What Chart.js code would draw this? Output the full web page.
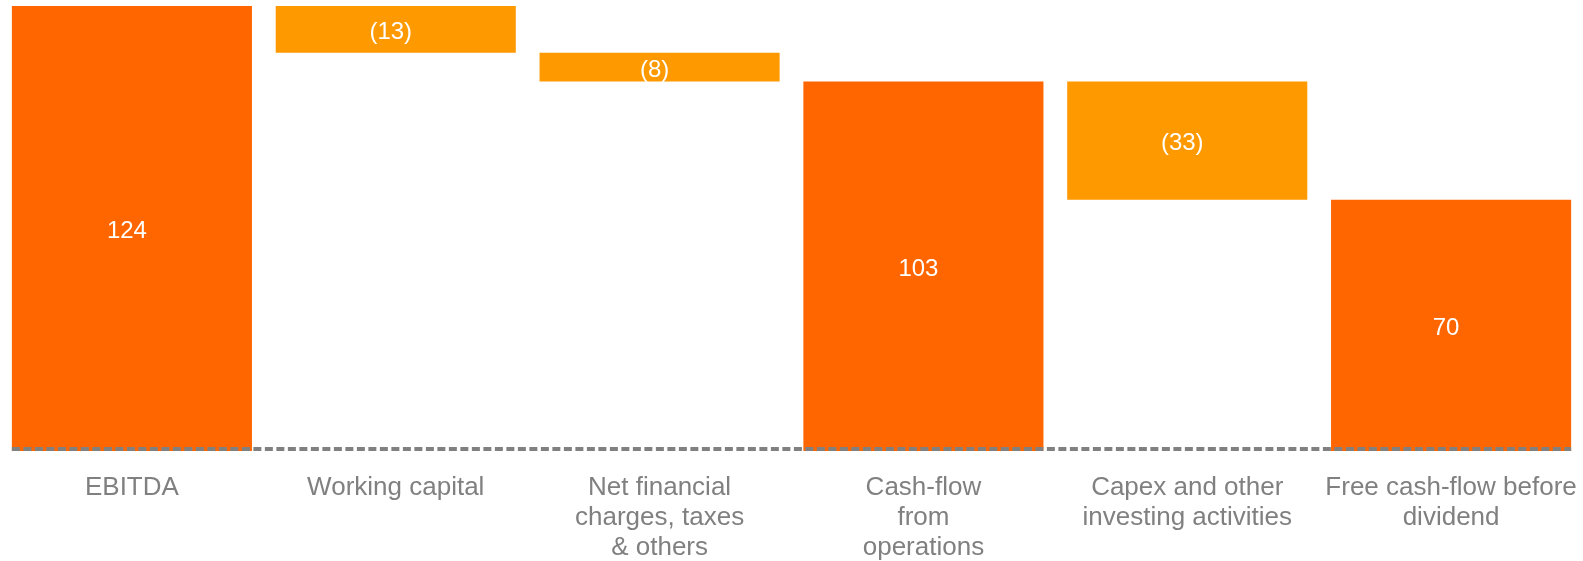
<!DOCTYPE html>
<html>
<head>
<meta charset="utf-8">
<script src="https://cdn.jsdelivr.net/npm/chart.js@4.4.1/dist/chart.umd.min.js"></script>
<style>
  html, body { margin: 0; padding: 0; background: #fff; overflow: hidden; }
  #cashChart { display: block; }
</style>
</head>
<body>
<canvas id="cashChart" width="1583" height="561"></canvas>
<script>
// Cash-flow bridge
const categories = [
  ['EBITDA'],
  ['Working capital'],
  ['Net financial', 'charges, taxes', '& others'],
  ['Cash-flow', 'from', 'operations'],
  ['Capex and other', 'investing activities'],
  ['Free cash-flow before', 'dividend']
];
const values = [124, -13, -8, 103, -33, 70];
const isTotal = [true, false, false, true, false, true];

const totalColor = '#FF6600';
const stepColor = '#FF9900';

// floating ranges for the waterfall
let running = 0;
const ranges = values.map((v, i) => {
  if (isTotal[i]) { running = v; return [0, v]; }
  const start = running;
  running = running + v;
  return [running, start];
});

const fmt = v => v < 0 ? '(' + Math.abs(v) + ')' : String(v);

const valueLabels = {
  id: 'valueLabels',
  afterDatasetsDraw(chart) {
    const ctx = chart.ctx;
    const meta = chart.getDatasetMeta(0);
    ctx.save();
    ctx.fillStyle = '#ffffff';
    ctx.font = '24px "Liberation Sans", Arial, sans-serif';
    ctx.textAlign = 'center';
    ctx.textBaseline = 'middle';
    meta.data.forEach((bar, i) => {
      const p = bar.getProps(['x', 'y', 'base'], true);
      ctx.fillText(fmt(values[i]), p.x - 5, (p.y + p.base) / 2 + 3);
    });
    ctx.restore();
  }
};

const baseLine = {
  id: 'baseLine',
  afterDatasetsDraw(chart) {
    const ctx = chart.ctx;
    const meta = chart.getDatasetMeta(0);
    const first = meta.data[0].getProps(['x', 'width'], true);
    const last = meta.data[meta.data.length - 1].getProps(['x', 'width'], true);
    const y = chart.scales.y.getPixelForValue(0) - 2;
    ctx.save();
    ctx.strokeStyle = '#808080';
    ctx.lineWidth = 4;
    ctx.setLineDash([8, 3.5]);
    ctx.beginPath();
    ctx.moveTo(first.x - first.width / 2, y);
    ctx.lineTo(last.x + last.width / 2, y);
    ctx.stroke();
    ctx.restore();
  }
};

const ctx1 = document.getElementById('cashChart').getContext('2d');
const cashChart = new Chart(ctx1, {
  type: 'bar',
  data: {
    labels: categories,
    datasets: [{
      data: ranges,
      backgroundColor: isTotal.map(t => t ? totalColor : stepColor),
      borderWidth: 0,
      categoryPercentage: 1,
      barPercentage: 0.91
    }]
  },
  options: {
    responsive: false,
    animation: false,
    layout: { padding: 0 },
    plugins: {
      legend: { display: false },
      tooltip: { enabled: false }
    },
    scales: {
      x: {
        grid: { display: false },
        border: { display: false },
        ticks: {
          color: '#808080',
          padding: 14,
          maxRotation: 0,
          autoSkip: false,
          font: { family: '"Liberation Sans", Arial, sans-serif', size: 26, lineHeight: 1.15 }
        },
        afterFit: s => {
          s.height = 110;
          s.paddingLeft = 0;
          s.paddingRight = 0;
        }
      },
      y: {
        display: false,
        min: 0,
        max: 125.7
      }
    }
  },
  plugins: [baseLine, valueLabels]
});
</script>
</body>
</html>
